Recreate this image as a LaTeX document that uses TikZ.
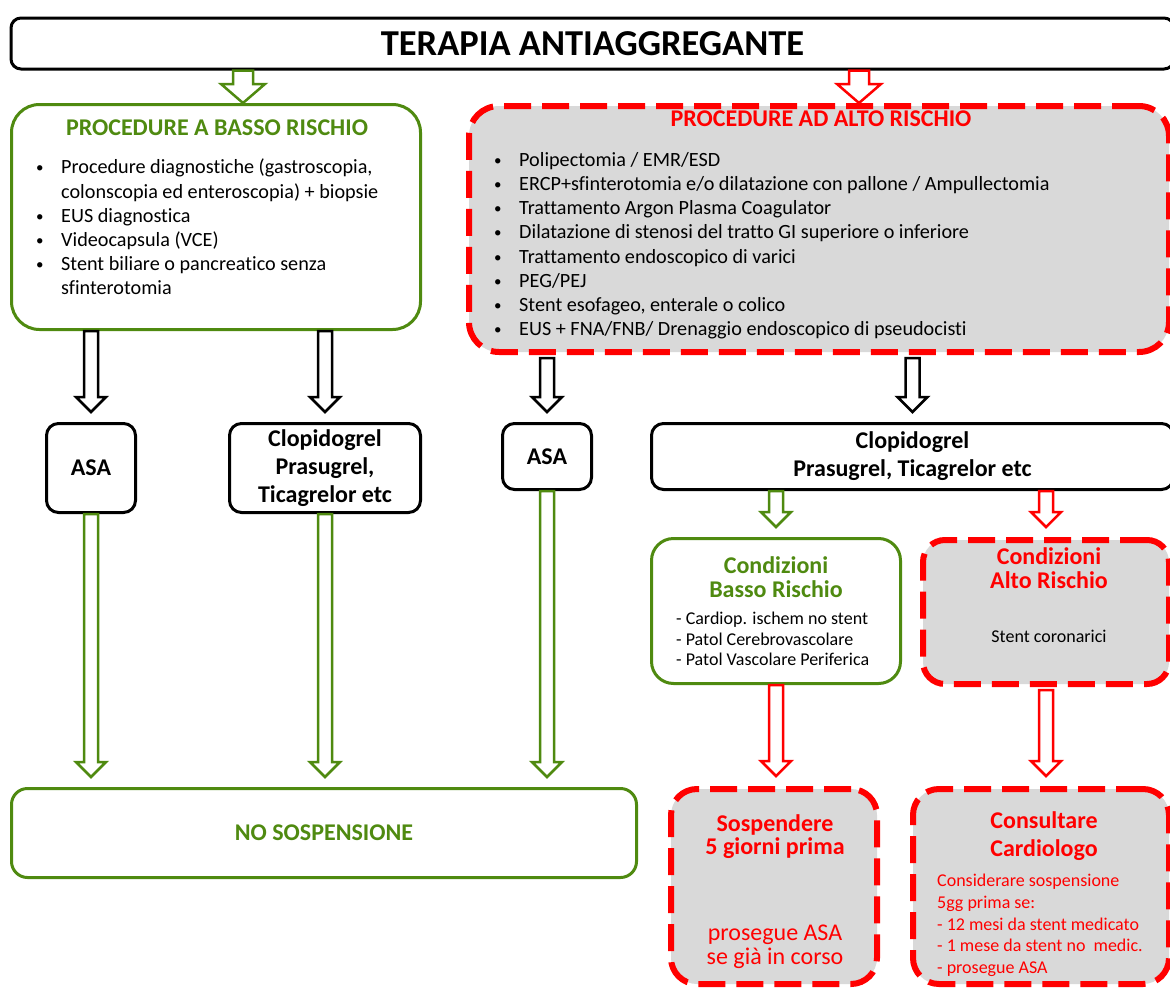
\documentclass[tikz,border=0pt]{standalone}
\usepackage{fontspec}
\setmainfont{Carlito}[Ligatures=NoCommon]
\usetikzlibrary{calc}
\definecolor{lowgreen}{HTML}{4F8A10}
\definecolor{highred}{HTML}{FF0000}
\definecolor{highgray}{HTML}{D9D9D9}
\newcommand{\bul}{\makebox[25pt][l]{\raisebox{1pt}{\fontsize{15pt}{15pt}\selectfont\textbullet}}}

\begin{document}
\begin{tikzpicture}[
    x=1pt,
    y=-1pt,
    blackbox/.style={
        draw=black,
        fill=white,
        line width=3pt,
        rounded corners=12pt,
        inner sep=0pt
    },
    greenbox/.style={
        draw=lowgreen,
        fill=white,
        line width=3pt,
        rounded corners=28pt,
        inner sep=0pt
    },
    dashbox/.style={
        draw=highred,
        fill=highgray,
        line width=6pt,
        dash pattern=on 27pt off 11pt,
        rounded corners=30pt,
        inner sep=0pt
    },
    headtext/.style={
        font=\fontsize{24pt}{24pt}\selectfont\bfseries,
        align=center,
        inner sep=0pt
    },
    listtext/.style={
        font=\fontsize{20.2pt}{24.2pt}\selectfont,
        align=left,
        inner sep=0pt
    },
    smalltext/.style={
        font=\fontsize{18pt}{20.5pt}\selectfont,
        align=left,
        inner sep=0pt
    },
    hollow/.style n args={3}{
        line width=2.5pt,
        fill=white,
        line join=miter,
        to path={
            let \p1=(\tikztostart), \p2=(\tikztotarget) in
            (\x1-#1,\y1) -- (\x1-#1,\y2+#3) -- (\x1-#2,\y2+#3) -- (\x1,\y2)
            -- (\x1+#2,\y2+#3) -- (\x1+#1,\y2+#3) -- (\x1+#1,\y1) -- cycle
        }
    },
    arr/.style={hollow={7pt}{15pt}{15pt}},
    bigarr/.style={hollow={10pt}{22pt}{19pt}}
]
\useasboundingbox (0,0) rectangle (1170,993);

% -----------------------------------------------------
% Titolo
% -----------------------------------------------------

\node[blackbox, rounded corners=10pt, minimum width=1163pt, minimum height=51pt,
    font=\fontsize{36.5pt}{40pt}\selectfont\bfseries] (title) at (592.5,43.5)
    {TERAPIA ANTIAGGREGANTE};

% -----------------------------------------------------
% Procedure
% -----------------------------------------------------

\node[greenbox, minimum width=409pt, minimum height=225pt] (low) at (216,217) {};
\node[headtext, text=lowgreen] (lowhead) at (217,128) {PROCEDURE A BASSO RISCHIO};
\node[listtext, anchor=north west] (lowlist) at (36,159)
{
    \bul Procedure diagnostiche (gastroscopia,\\
    \hspace*{25pt}colonscopia ed enteroscopia) + biopsie\\
    \bul EUS diagnostica\\
    \bul Videocapsula (VCE)\\
    \bul Stent biliare o pancreatico senza\\
    \hspace*{25pt}sfinterotomia
};

\node[dashbox, minimum width=700pt, minimum height=246pt] (high) at (819,229) {};
\node[headtext, text=highred] (highhead) at (821,119) {PROCEDURE AD ALTO RISCHIO};
\node[listtext, anchor=north west] (highlist) at (494,152)
{
    \bul Polipectomia / EMR/ESD\\
    \bul ERCP+sfinterotomia e/o dilatazione con pallone / Ampullectomia\\
    \bul Trattamento Argon Plasma Coagulator\\
    \bul Dilatazione di stenosi del tratto GI superiore o inferiore\\
    \bul Trattamento endoscopico di varici\\
    \bul PEG/PEJ\\
    \bul Stent esofageo, enterale o colico\\
    \bul EUS + FNA/FNB/ Drenaggio endoscopico di pseudocisti
};

% -----------------------------------------------------
% Farmaci
% -----------------------------------------------------

\node[blackbox, headtext, minimum width=89pt, minimum height=89pt] (asa1) at (91,468) {ASA};
\node[blackbox, headtext, font=\fontsize{24pt}{28pt}\selectfont\bfseries,
    minimum width=191pt, minimum height=89pt] (clop1) at (325,468)
    {Clopidogrel\\Prasugrel,\\Ticagrelor etc};
\node[blackbox, headtext, minimum width=89pt, minimum height=66pt] (asa2) at (547,456.5) {ASA};
\node[blackbox, headtext, font=\fontsize{24pt}{28pt}\selectfont\bfseries,
    minimum width=522pt, minimum height=66pt] (clop2) at (912.5,456.5)
    {Clopidogrel\\Prasugrel, Ticagrelor etc};

% -----------------------------------------------------
% Condizioni
% -----------------------------------------------------

\node[greenbox, rounded corners=22pt, minimum width=249pt, minimum height=145pt] (condlow) at (776,611) {};
\node[headtext, text=lowgreen] (condlowhead) at (776,577) {Condizioni\\Basso Rischio};
\node[smalltext, anchor=north west] (condlowlist) at (676,612)
{
    - Cardiop. ischem no stent\\
    - Patol Cerebrovascolare\\
    - Patol Vascolare Periferica
};

\node[dashbox, rounded corners=22pt, minimum width=246pt, minimum height=144pt] (condhigh) at (1046,612) {};
\node[headtext, text=highred] (condhighhead) at (1049,568) {Condizioni\\Alto Rischio};
\node[smalltext] (condhighlist) at (1049,636) {Stent coronarici};

% -----------------------------------------------------
% Esiti
% -----------------------------------------------------

\node[greenbox, rounded corners=16pt, minimum width=625pt, minimum height=89pt,
    headtext, text=lowgreen] (nosusp) at (324,833)
    {NO SOSPENSIONE};

\node[dashbox, rounded corners=26pt, minimum width=206pt, minimum height=195pt] (sosp) at (774,886.5) {};
\node[headtext, text=highred, font=\fontsize{24pt}{23pt}\selectfont\bfseries] (sosphead) at (775,837)
    {Sospendere\\5 giorni prima};
\node[headtext, text=highred, font=\fontsize{24pt}{24pt}\selectfont] (sospnote) at (775,947)
    {prosegue ASA\\se già in corso};

\node[dashbox, rounded corners=26pt, minimum width=256pt, minimum height=195pt] (consult) at (1041,886.5) {};
\node[headtext, text=highred, font=\fontsize{24pt}{28pt}\selectfont\bfseries] (consulthead) at (1044,836)
    {Consultare\\Cardiologo};
\node[smalltext, text=highred, font=\fontsize{18pt}{21.7pt}\selectfont, anchor=north west] (consultlist) at (937,874)
{
    Considerare sospensione\\
    5gg prima se:\\
    - 12 mesi da stent medicato\\
    - 1 mese da stent no\ \ medic.\\
    - prosegue ASA
};

% -----------------------------------------------------
% Frecce
% -----------------------------------------------------

\draw[bigarr, draw=lowgreen] ($(low.north |- title.south)+(27,0)$) to (low.north);
\draw[bigarr, draw=highred] ($(high.north |- title.south)+(40,0)$) to (high.north);

\draw[arr, draw=black] (low.south -| asa1.north) to ([yshift=10pt]asa1.north);
\draw[arr, draw=black] (low.south -| clop1.north) to ([yshift=10pt]clop1.north);
\draw[arr, draw=black] ([yshift=-3pt]high.south -| asa2.north) to ([yshift=10pt]asa2.north);
\draw[arr, draw=black] ([yshift=-3pt]high.south -| clop2.north) to ([yshift=10pt]clop2.north);

\draw[arr, draw=lowgreen] (asa1.south) to ([yshift=10pt]nosusp.north -| asa1.south);
\draw[arr, draw=lowgreen] (clop1.south) to ([yshift=10pt]nosusp.north -| clop1.south);
\draw[arr, draw=lowgreen] (asa2.south) to ([yshift=10pt]nosusp.north -| asa2.south);

\draw[arr, draw=lowgreen] (clop2.south -| condlow.north) to ([yshift=10pt]condlow.north);
\draw[arr, draw=highred] (clop2.south -| condhigh.north) to ([yshift=10pt]condhigh.north);

\draw[arr, draw=highred] (condlow.south) to ([yshift=10pt]sosp.north -| condlow.south);
\draw[arr, draw=highred] ([yshift=-3pt]condhigh.south) to ([yshift=10pt]consult.north -| condhigh.south);

\end{tikzpicture}
\end{document}
